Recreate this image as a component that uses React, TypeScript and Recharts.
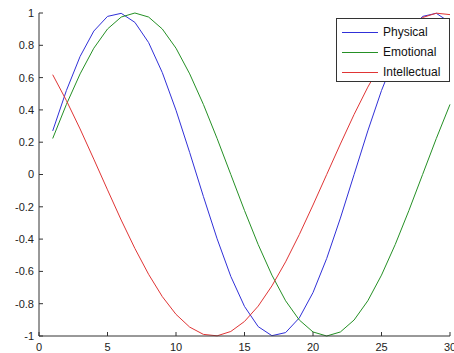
import { Legend, Line, LineChart, XAxis, YAxis } from 'recharts';

// biorhythm values, one per day
const days = [
  1, 2, 3, 4, 5, 6, 7, 8, 9, 10, 11, 12, 13, 14, 15, 16, 17, 18, 19, 20, 21,
  22, 23, 24, 25, 26, 27, 28, 29, 30,
];
const physical = [
  0.27, 0.52, 0.731, 0.888, 0.979, 0.998, 0.942, 0.817, 0.631, 0.398, 0.136,
  -0.136, -0.398, -0.631, -0.817, -0.942, -0.998, -0.979, -0.888, -0.731,
  -0.52, -0.27, 0, 0.27, 0.52, 0.731, 0.888, 0.979, 0.998, 0.942,
];
const emotional = [
  0.223, 0.434, 0.623, 0.782, 0.901, 0.975, 1, 0.975, 0.901, 0.782, 0.623,
  0.434, 0.223, 0, -0.223, -0.434, -0.623, -0.782, -0.901, -0.975, -1,
  -0.975, -0.901, -0.782, -0.623, -0.434, -0.223, 0, 0.223, 0.434,
];
const intellectual = [
  0.618, 0.458, 0.282, 0.095, -0.095, -0.282, -0.458, -0.618, -0.756, -0.866,
  -0.945, -0.99, -0.999, -0.972, -0.91, -0.815, -0.69, -0.541, -0.372,
  -0.189, 0, 0.189, 0.372, 0.541, 0.69, 0.815, 0.91, 0.972, 0.999, 0.99,
];
const seriesNames = ['Physical', 'Emotional', 'Intellectual'];
const xTicks = [0, 5, 10, 15, 20, 25, 30];
const yTicks = [-1, -0.8, -0.6, -0.4, -0.2, 0, 0.2, 0.4, 0.6, 0.8, 1];

const chartData = days.map((day, i) => ({
  day,
  physical: physical[i],
  emotional: emotional[i],
  intellectual: intellectual[i],
}));

const axisColor = '#333333';
const tickFont = { fontSize: 11, fill: '#222222' };

function LegendBox({ payload }: any) {
  // keep plotting order, not alphabetical
  const items = [...(payload ?? [])].sort(
    (a: any, b: any) => seriesNames.indexOf(a.value) - seriesNames.indexOf(b.value)
  );
  return (
    <div
      style={{
        boxSizing: 'border-box',
        width: 114,
        height: 64,
        border: `1px solid ${axisColor}`,
        background: '#ffffff',
        paddingTop: 3,
        fontFamily: '"Liberation Sans", Arial, sans-serif',
        fontSize: 12,
        color: '#111111',
      }}
    >
      {items.map((entry: any) => (
        <div
          key={entry.value}
          style={{ display: 'flex', alignItems: 'center', height: 20 }}
        >
          <svg width={41} height={3} style={{ marginLeft: 5 }}>
            <line x1={0} y1={1.5} x2={36} y2={1.5} stroke={entry.color} strokeWidth={1} />
          </svg>
          <span>{entry.value}</span>
        </div>
      ))}
    </div>
  );
}

export default function App() {
  return (
    <div style={{ position: 'absolute', left: 0, top: 0, background: '#fff' }}>
      <LineChart
        width={454}
        height={353}
        data={chartData}
        margin={{ top: 13, right: 4, left: 0, bottom: 0 }}
        style={{ fontFamily: '"Liberation Sans", Arial, sans-serif' }}
      >
        <XAxis
          dataKey='day'
          type='number'
          domain={[0, 30]}
          ticks={xTicks}
          height={17}
          stroke={axisColor}
          tick={tickFont}
          tickSize={-4}
          tickMargin={11}
          interval={0}
        />
        <XAxis
          xAxisId='top'
          orientation='top'
          type='number'
          domain={[0, 30]}
          ticks={xTicks}
          height={0}
          stroke={axisColor}
          tick={false}
          tickSize={-4}
        />
        <YAxis
          type='number'
          domain={[-1, 1]}
          ticks={yTicks}
          width={39}
          stroke={axisColor}
          tick={tickFont}
          tickSize={-4}
          tickMargin={9}
          interval={0}
        />
        <YAxis
          yAxisId='right'
          orientation='right'
          type='number'
          domain={[-1, 1]}
          ticks={yTicks}
          width={0}
          stroke={axisColor}
          tick={false}
          tickSize={-4}
        />
        <Legend
          layout='horizontal'
          verticalAlign='middle'
          align='center'
          content={<LegendBox />}
          wrapperStyle={{ left: 336, top: 18, width: 114, height: 64 }}
        />
        <Line
          type='linear'
          dataKey='physical'
          name='Physical'
          stroke='#3030d8'
          strokeWidth={1}
          dot={false}
          isAnimationActive={false}
        />
        <Line
          type='linear'
          dataKey='emotional'
          name='Emotional'
          stroke='#259025'
          strokeWidth={1}
          dot={false}
          isAnimationActive={false}
        />
        <Line
          type='linear'
          dataKey='intellectual'
          name='Intellectual'
          stroke='#e03535'
          strokeWidth={1}
          dot={false}
          isAnimationActive={false}
        />
      </LineChart>
    </div>
  );
}
